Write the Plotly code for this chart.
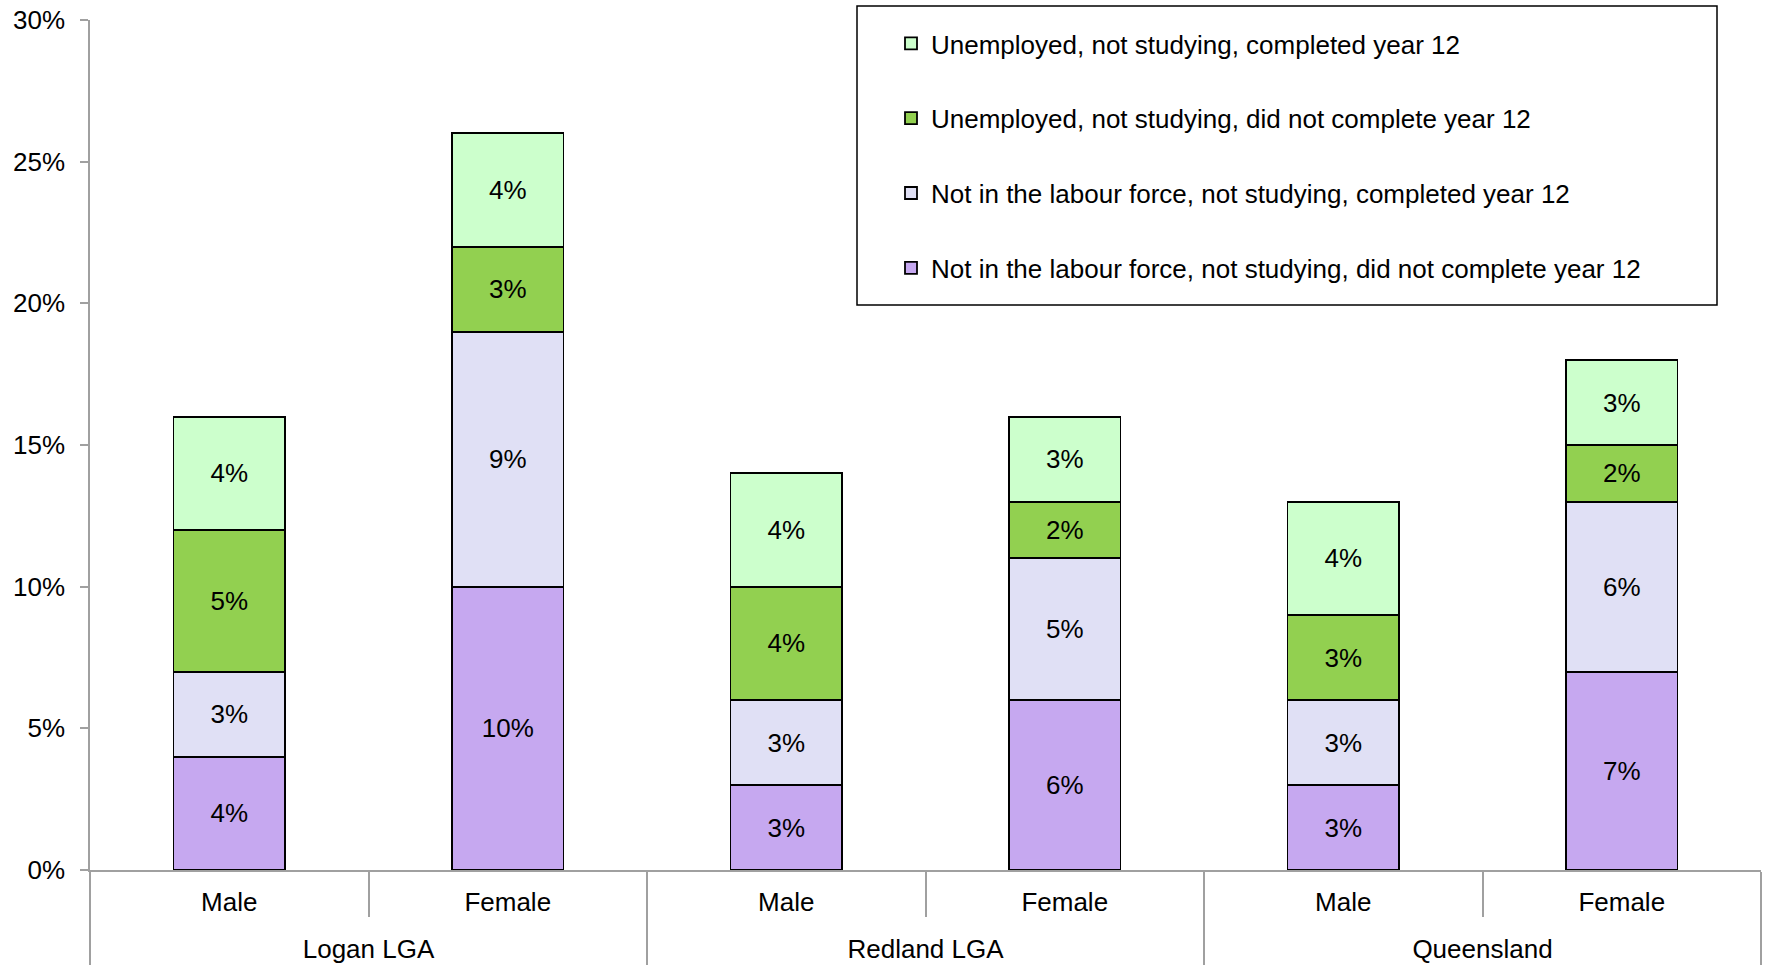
import plotly.graph_objects as go

regions = ["Logan LGA", "Logan LGA", "Redland LGA", "Redland LGA", "Queensland", "Queensland"]
sexes = ["Male", "Female", "Male", "Female", "Male", "Female"]

series_names = [
    "Not in the labour force, not studying, did not complete year 12",
    "Not in the labour force, not studying, completed year 12",
    "Unemployed, not studying, did not complete year 12",
    "Unemployed, not studying, completed year 12",
]
nilf_no_y12 = [4, 10, 3, 6, 3, 7]
nilf_y12 = [3, 9, 3, 5, 3, 6]
unemp_no_y12 = [5, 3, 4, 2, 3, 2]
unemp_y12 = [4, 4, 4, 3, 4, 3]
series_values = [nilf_no_y12, nilf_y12, unemp_no_y12, unemp_y12]
series_colors = ["#C6A8F0", "#E0E0F5", "#92D050", "#CCFFCC"]

y_ticks = [0, 5, 10, 15, 20, 25, 30]
y_tick_labels = [f"{v}%" for v in y_ticks]

FONT = "Liberation Sans, Arial, sans-serif"
FS = 26
W, H = 1768, 965
# target plot area in page pixels: x 90..1761, y 20..870
ML = 90
MT = 20
MR = W - 1761
MB = H - 870
PW = W - ML - MR
PH = H - MT - MB

# invisible tall spacer around inner labels so the outer level sits lower
SPACER = "<span style='font-size:47px'>&nbsp;</span>"
sex_labels = [f"{SPACER}{s}{SPACER}" for s in sexes]

fig = go.Figure()
n = len(series_names)
for i, (name, vals, col) in enumerate(zip(series_names, series_values, series_colors)):
    fig.add_trace(go.Bar(
        x=[regions, sex_labels], y=vals, name=name,
        marker=dict(color=col, line=dict(color="black", width=1.8)),
        text=[f"{v}%" for v in vals], texttemplate="%{text}",
        textposition="inside", insidetextanchor="middle", textangle=0,
        constraintext="none",
        textfont=dict(color="black", size=FS, family=FONT),
        legendgroup=name, legendrank=n - i, width=0.4,
        hovertemplate="%{y}%<extra>" + name + "</extra>",
    ))

def px_x(p):
    return (p - ML) / PW

def px_y(p):
    return (H - MB - p) / PH

fig.update_layout(
    width=W, height=H,
    margin=dict(l=ML, r=MR, t=MT, b=MB),
    barmode="stack",
    plot_bgcolor="white", paper_bgcolor="white",
    font=dict(family=FONT, size=FS, color="black"),
    showlegend=True,
    legend=dict(
        traceorder="grouped", tracegroupgap=38,
        x=px_x(891), xanchor="left", y=1.0, yanchor="top",
        bgcolor="rgba(0,0,0,0)", borderwidth=0,
        font=dict(family=FONT, size=FS, color="black"),
    ),
    xaxis=dict(
        type="multicategory", showline=True, linecolor="#A0A0A0", linewidth=1.5,
        ticks="outside", tickson="boundaries", ticklen=45, tickcolor="#A0A0A0", tickwidth=1.5,
        ticklabelstandoff=8,
        showdividers=True, dividercolor="#A0A0A0", dividerwidth=1.5,
        showgrid=False, automargin=False,
        tickfont=dict(family=FONT, size=FS, color="black"),
    ),
    yaxis=dict(
        range=[0, 30], tickmode="array", tickvals=y_ticks, ticktext=y_tick_labels,
        showline=True, linecolor="#A0A0A0", linewidth=1.5,
        ticks="outside", ticklen=8, tickcolor="#A0A0A0", tickwidth=1.5,
        ticklabelstandoff=10, ticklabeloverflow="allow",
        showgrid=False, zeroline=False, automargin=False,
        tickfont=dict(family=FONT, size=FS, color="black"),
    ),
    shapes=[dict(
        type="rect", xref="paper", yref="paper",
        x0=px_x(857), x1=px_x(1717), y0=px_y(305), y1=px_y(6),
        line=dict(color="black", width=1.5), fillcolor="rgba(0,0,0,0)",
    )],
)

fig.write_html(
    "out.html",
    config={"displayModeBar": False},
    post_script="document.body.style.margin='0';document.body.style.padding='0';",
)
